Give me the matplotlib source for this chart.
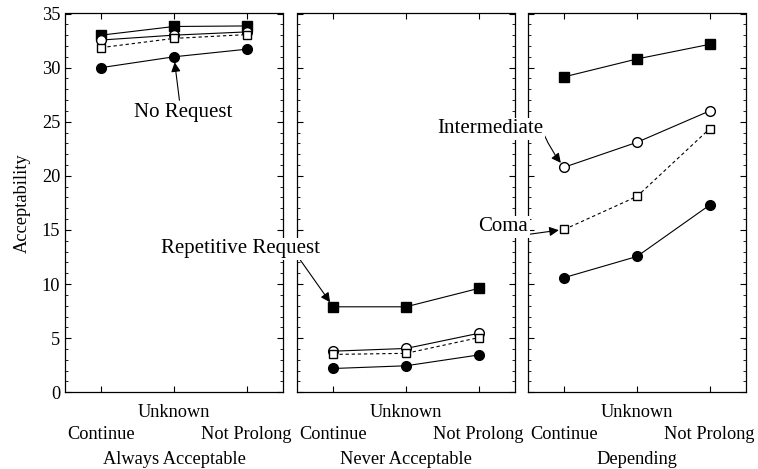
import numpy as np
import matplotlib
matplotlib.use('Agg')
import matplotlib.pyplot as plt
from matplotlib.ticker import MultipleLocator

plt.rcParams['font.family'] = ['Liberation Serif', 'DejaVu Serif']
plt.rcParams['font.size'] = 13.2

# conditions within each panel
conditions = ['Continue', 'Unknown', 'Not Prolong']
panels = ['Always Acceptable', 'Never Acceptable', 'Depending']

# acceptability per panel (Continue, Unknown, Not Prolong)
repetitive = [[33.0, 33.8, 33.85], [7.9, 7.9, 9.6], [29.15, 30.8, 32.15]]
intermediate = [[32.55, 33.0, 33.3], [3.8, 4.05, 5.45], [20.8, 23.1, 26.0]]
coma = [[31.85, 32.7, 33.05], [3.5, 3.6, 5.05], [15.05, 18.1, 24.35]]
no_request = [[30.0, 31.0, 31.7], [2.2, 2.45, 3.45], [10.6, 12.55, 17.3]]

W, H = 758, 469
fig = plt.figure(figsize=(W / 100, H / 100), dpi=100)

lefts = [65, 297, 528]
axw, bot, top = 218, 392.3, 13.5
x = np.arange(3)
axes = []
for i in range(3):
    ax = fig.add_axes([lefts[i] / W, 1 - bot / H, axw / W, (bot - top) / H])
    ax.plot(x, repetitive[i], '-s', color='k', lw=0.8, ms=7, mfc='k')
    ax.plot(x, intermediate[i], '-o', color='k', lw=0.8, ms=7, mfc='white')
    ax.plot(x, coma[i], '--s', color='k', lw=0.8, ms=6, mfc='white', dashes=(3, 2.5))
    ax.plot(x, no_request[i], '-o', color='k', lw=0.8, ms=7, mfc='k')
    ax.set_xlim(-0.5, 2.5)
    ax.set_ylim(0, 35)
    # staggered labels: outer conditions on the lower row, middle one on the upper row
    ax.set_xticks([0, 2])
    ax.set_xticklabels([conditions[0], conditions[2]])
    ax.set_xticks([1], minor=True)
    ax.set_xticklabels([conditions[1]], minor=True)
    ax.yaxis.set_major_locator(MultipleLocator(5))
    ax.yaxis.set_minor_locator(MultipleLocator(1))
    ax.tick_params(which='both', direction='in', top=True, right=True)
    ax.tick_params(which='major', length=4, width=0.8)
    ax.tick_params(axis='y', which='minor', length=2, width=0.6)
    ax.tick_params(axis='x', which='minor', length=4, width=0.8, pad=8.5)
    ax.tick_params(axis='x', which='major', pad=24.5)
    ax.set_xlabel(panels[i], labelpad=5.5)
    if i > 0:
        ax.set_yticklabels([])
    for s in ax.spines.values():
        s.set_linewidth(0.9)
    axes.append(ax)

axes[0].set_ylabel('Acceptability', labelpad=8)

box = dict(facecolor='white', edgecolor='none', pad=1)
arr = dict(arrowstyle='-|>', color='k', lw=0.8, mutation_scale=14, shrinkA=0, shrinkB=4)

axes[0].annotate('No Request', xy=(1, no_request[0][1]), xytext=(1.12, 25.85),
                 ha='center', va='center', fontsize=15,
                 arrowprops=dict(arr, relpos=(0.47, 1.0)))
axes[1].annotate('Repetitive Request', xy=(0, repetitive[1][0]), xytext=(-1.28, 13.25),
                 ha='center', va='center', fontsize=15, bbox=box, annotation_clip=False,
                 arrowprops=dict(arr, relpos=(0.87, 0.0)))
axes[2].annotate('Intermediate', xy=(0, intermediate[2][0]), xytext=(-1.02, 24.36),
                 ha='center', va='center', fontsize=15, bbox=box, annotation_clip=False,
                 arrowprops=dict(arr, relpos=(1.0, 0.3), connectionstyle='arc3,rad=0.08'))
axes[2].annotate('Coma', xy=(0, coma[2][0]), xytext=(-0.84, 15.29),
                 ha='center', va='center', fontsize=15, bbox=box, annotation_clip=False,
                 arrowprops=dict(arr, relpos=(1.0, 0.1)))

fig.savefig('out.png', dpi=100)
